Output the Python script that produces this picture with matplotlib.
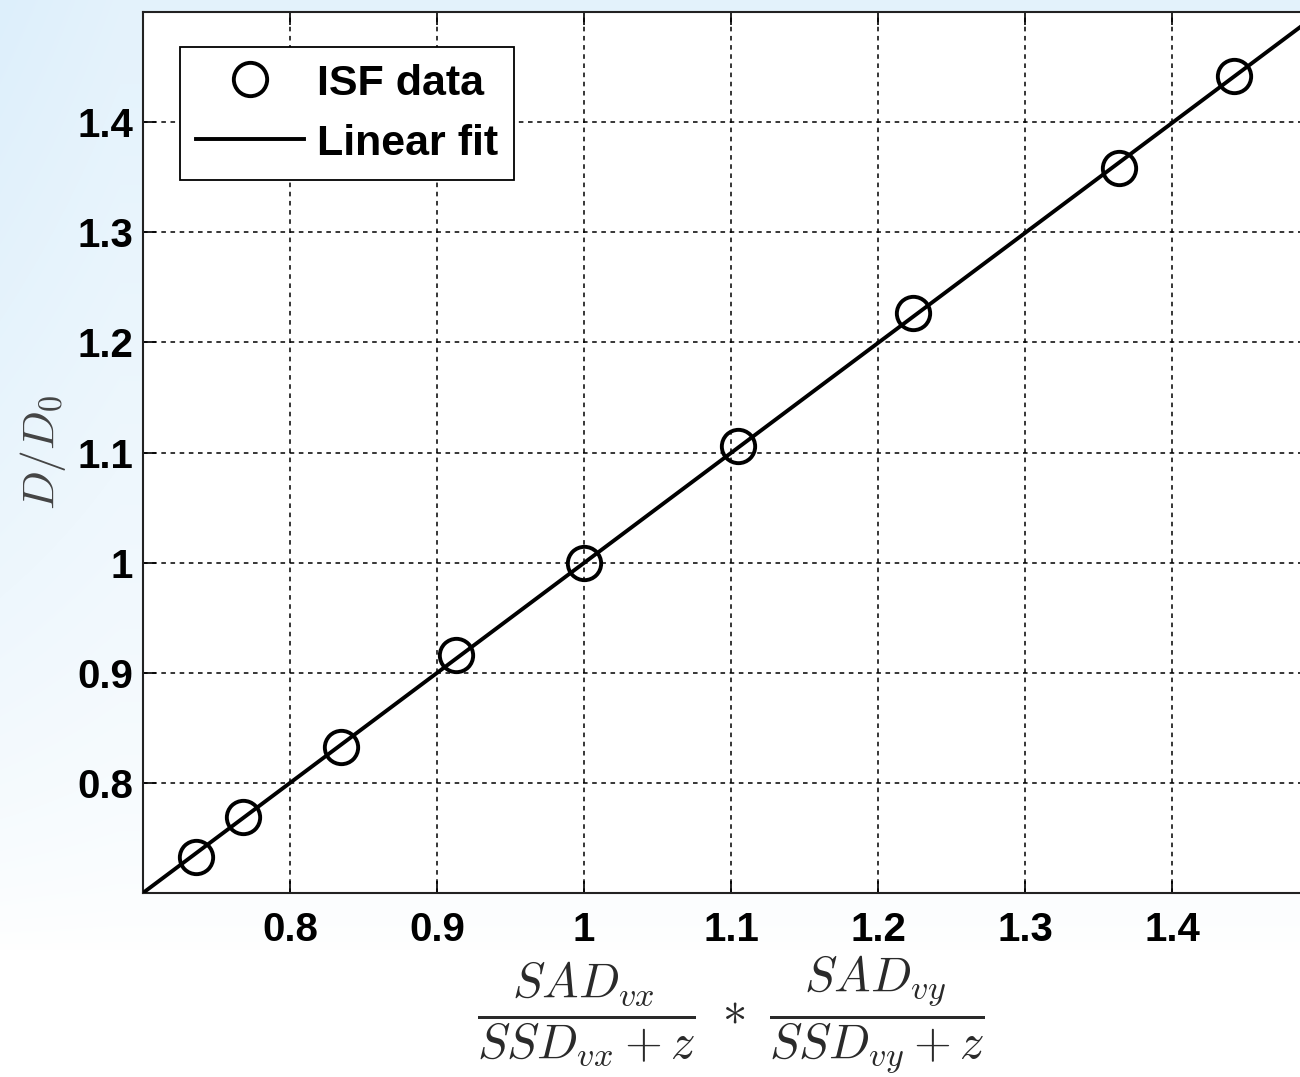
import numpy as np
import matplotlib

matplotlib.use("Agg")
import matplotlib.pyplot as plt

# measured ratios
isf_x = [0.736, 0.768, 0.835, 0.913, 1.000, 1.105, 1.224, 1.364, 1.442]
isf_y = [0.733, 0.769, 0.833, 0.916, 1.000, 1.106, 1.227, 1.358, 1.442]

x_ticks = [0.8, 0.9, 1.0, 1.1, 1.2, 1.3, 1.4]
y_ticks = [0.8, 0.9, 1.0, 1.1, 1.2, 1.3, 1.4]
tick_labels = ["0.8", "0.9", "1", "1.1", "1.2", "1.3", "1.4"]

plt.rcParams["font.family"] = ["Liberation Sans", "DejaVu Sans"]
plt.rcParams["font.weight"] = "bold"
plt.rcParams["mathtext.fontset"] = "cm"

W, H = 1300, 1077
fig = plt.figure(figsize=(W / 100, H / 100), dpi=100)
fig.patch.set_facecolor("white")

# slide background: pale blue fading out towards the bottom and right
bg = fig.add_axes([0, 0, 1, 1], zorder=-10)
yy, xx = np.mgrid[0:H, 0:W]
w = np.clip(1 - yy / 950.0, 0, 1) ** 0.7 * np.clip(1 - xx / 600.0, 0.8, 1)
blue = np.array([221, 239, 251]) / 255.0
img = 1 - w[..., None] * (1 - blue)
bg.imshow(img, aspect="auto", extent=[0, 1, 0, 1])
bg.axis("off")

# axes runs past the right edge of the figure
ax = fig.add_axes([143 / W, 1 - 893 / H, 1176 / W, 881 / H])
ax.set_facecolor("white")

slope, intercept = np.polyfit(isf_x, isf_y, 1)
fit_x = np.array([0.7, 1.5])
ax.plot(isf_x, isf_y, "o", ms=24, mfc="none", mec="black", mew=2.8,
        label="ISF data", zorder=3)
ax.plot(fit_x, slope * fit_x + intercept, "-", color="black", lw=2.8,
        label="Linear fit", zorder=3)

ax.set_xlim(0.7, 1.5)
ax.set_ylim(0.7, 1.5)
ax.set_xticks(x_ticks)
ax.set_xticklabels(tick_labels)
ax.set_yticks(y_ticks)
ax.set_yticklabels(tick_labels)
ax.tick_params(direction="in", length=9, width=1.2, labelsize=29,
               top=True, right=True)
ax.tick_params(axis="x", pad=13)
ax.tick_params(axis="y", pad=7)
for s in ax.spines.values():
    s.set_linewidth(1.5)
    s.set_color("#222222")

ax.grid(True, color="black", linestyle=(0, (3, 3)), linewidth=1.1)
ax.set_axisbelow(True)

ax.set_xlabel(r"$\dfrac{SAD_{vx}}{SSD_{vx}+z}\ \ast\ \dfrac{SAD_{vy}}{SSD_{vy}+z}$",
              fontsize=35, color="#2a2a2a", labelpad=3)
ax.set_ylabel(r"$D/D_0$", fontsize=33, color="#444444", labelpad=7)

leg = ax.legend(loc="upper left", bbox_to_anchor=(37 / 1176, 1 - 35 / 881),
                borderaxespad=0, fancybox=False, framealpha=1,
                edgecolor="black", fontsize=31, handlelength=2.5,
                handletextpad=0.3, borderpad=0.38, labelspacing=0.45,
                handleheight=0.8)
leg.get_frame().set_linewidth(1.3)

fig.savefig("out.png", dpi=100)
